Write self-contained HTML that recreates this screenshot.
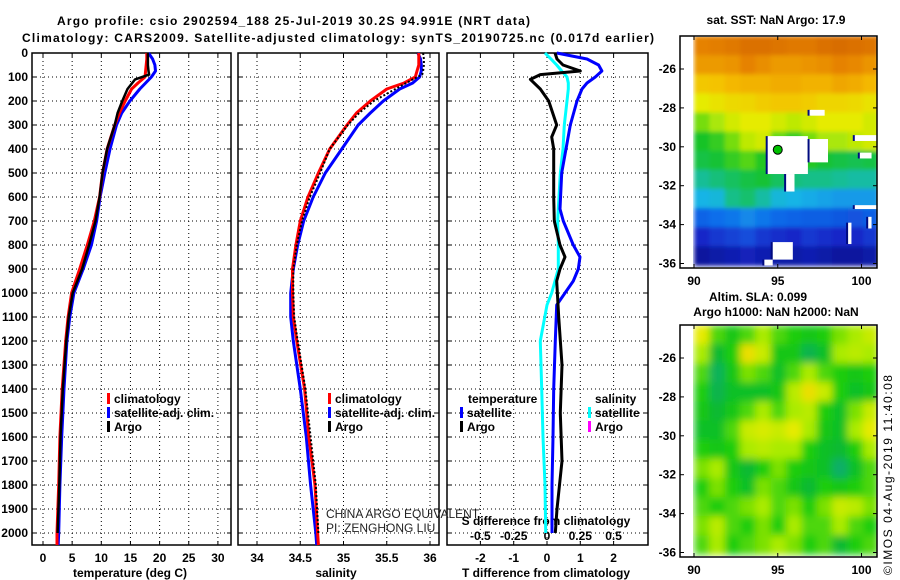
<!DOCTYPE html>
<html><head><meta charset="utf-8"><style>
html,body{margin:0;padding:0;background:#fff;}
svg{display:block;font-family:"Liberation Sans",sans-serif;}
.b{font-weight:bold;font-size:12px;fill:#000;}
</style></head><body>
<svg id="fig" width="900" height="580" viewBox="0 0 900 580" xmlns="http://www.w3.org/2000/svg">
<defs>
<filter id="blurS" x="-5%" y="-5%" width="110%" height="110%"><feGaussianBlur stdDeviation="2" edgeMode="duplicate"/></filter>
<filter id="blurL" x="-5%" y="-5%" width="110%" height="110%"><feGaussianBlur stdDeviation="4" edgeMode="duplicate"/></filter>
<clipPath id="clipM1"><rect x="693" y="37" width="184" height="230"/></clipPath>
<clipPath id="clipM2"><rect x="693" y="326" width="184" height="230"/></clipPath>
</defs>
<text class="b" x="57" y="25" font-size="13" textLength="473">Argo profile: csio 2902594_188 25-Jul-2019 30.2S 94.991E (NRT data)</text>
<text class="b" x="22" y="42" font-size="13" textLength="632">Climatology: CARS2009. Satellite-adjusted climatology: synTS_20190725.nc (0.017d earlier)</text>
<text class="b" x="776" y="24" text-anchor="middle">sat. SST: NaN Argo: 17.9</text>
<text class="b" x="758" y="301" text-anchor="middle">Altim. SLA: 0.099</text>
<text class="b" x="776" y="316" text-anchor="middle">Argo h1000: NaN h2000: NaN</text>
<text x="0" y="0" font-size="12" transform="translate(892,575) rotate(-90)" textLength="200">©IMOS 04-Aug-2019 11:40:08</text>
<g id="root"></g>
</svg>
<script>
// ---------- profile data ----------
const depthT   = [0,25,50,75,100,125,150,200,250,300,400,500,600,700,800,900,1000,1100,1200,1400,1600,1800,2000,2050];
const tempClim = [17.8,17.8,17.7,17.6,17.5,16.3,15.2,14.1,13.1,12.3,11.0,10.2,9.7,8.8,7.6,6.3,4.9,4.3,3.9,3.3,2.9,2.7,2.4,2.4];
const tempSat  = [18.1,18.8,19.2,19.3,18.6,17.6,16.6,14.9,13.5,12.6,11.5,10.6,9.8,9.2,8.3,6.9,5.3,4.6,4.1,3.6,3.2,2.9,2.7,2.6];
const depthA   = [0,25,50,75,90,110,150,200,250,300,400,500,600,700,800,900,1000,1100,1200,1400,1600,1800,2000];
const tempArgo = [18.0,18.0,18.0,18.1,18.2,15.8,14.5,13.6,12.8,12.3,11.0,10.2,9.7,9.0,7.9,6.7,5.1,4.4,4.0,3.4,3.0,2.8,2.5];
const salClim  = [35.87,35.87,35.87,35.85,35.83,35.70,35.50,35.31,35.15,35.04,34.84,34.71,34.59,34.50,34.45,34.41,34.41,34.42,34.46,34.55,34.60,34.67,34.70,34.71];
const salSat   = [35.86,35.89,35.90,35.90,35.88,35.80,35.65,35.46,35.31,35.17,34.98,34.79,34.65,34.54,34.47,34.42,34.39,34.39,34.42,34.50,34.57,34.62,34.68,34.69];
const salArgo  = [35.92,35.93,35.93,35.92,35.91,35.80,35.60,35.35,35.18,35.05,34.84,34.73,34.61,34.52,34.46,34.42,34.42,34.43,34.47,34.56,34.62,34.68,34.71];
const depthD   = [0,25,50,75,100,125,150,200,300,400,500,650,700,800,850,900,950,1000,1050,1200,1400,1600,1800,2000];
const dTsat    = [0.29,1.2,1.55,1.65,1.45,1.2,1.05,0.9,0.7,0.57,0.44,0.39,0.49,0.79,0.99,0.94,0.79,0.54,0.29,0.25,0.2,0.18,0.15,0.15];
const dSsat    = [-0.015,0.03,0.073,0.11,0.15,0.16,0.16,0.15,0.13,0.12,0.1,0.085,0.08,0.085,0.085,0.085,0.06,0.035,0.0,-0.05,-0.04,-0.03,-0.015,-0.01];
const depthDA  = [0,25,50,75,90,110,150,200,300,350,400,500,600,700,800,850,900,950,1100,1300,1500,1700,1900,2000];
const dTargo   = [0.24,0.3,0.48,1.0,-0.2,-0.5,-0.2,0.05,0.29,0.14,0.2,0.2,0.2,0.22,0.39,0.54,0.39,0.29,0.35,0.45,0.4,0.45,0.3,0.25];
const depthTicks = [0,100,200,300,400,500,600,700,800,900,1000,1100,1200,1300,1400,1500,1600,1700,1800,1900,2000];
const tempTicks = [0,5,10,15,20,25,30];
const salTicks = [34,34.5,35,35.5,36];
const salTickLabels = ["34","34.5","35","35.5","36"];
const dTTicks = [-2,-1,0,1,2];
const dSTicks = [-0.5,-0.25,0,0.25,0.5];
const dSTickLabels = ["-0.5","-0.25","0","0.25","0.5"];
// ---------- map data ----------
const lonTicks = [90,95,100];
const latTicks = [-26,-28,-30,-32,-34,-36];
const sstGrid = [
[0.86,0.87,0.88,0.90,0.90,0.89,0.88,0.88,0.90,0.91,0.90,0.89],
[0.82,0.82,0.83,0.86,0.84,0.82,0.82,0.83,0.84,0.86,0.85,0.83],
[0.74,0.75,0.77,0.78,0.78,0.79,0.79,0.78,0.78,0.80,0.79,0.77],
[0.66,0.68,0.70,0.71,0.73,0.74,0.74,0.73,0.71,0.71,0.70,0.68],
[0.56,0.60,0.64,0.66,0.66,0.64,0.62,0.64,0.66,0.66,0.66,0.64],
[0.50,0.52,0.56,0.62,0.64,0.55,0.52,0.56,0.60,0.60,0.62,0.64],
[0.48,0.49,0.52,0.54,0.51,0.49,0.49,0.51,0.49,0.48,0.47,0.48],
[0.42,0.44,0.46,0.48,0.49,0.46,0.44,0.43,0.43,0.42,0.41,0.41],
[0.36,0.37,0.43,0.45,0.41,0.37,0.36,0.35,0.34,0.33,0.33,0.33],
[0.26,0.28,0.29,0.31,0.29,0.27,0.26,0.25,0.25,0.24,0.23,0.25],
[0.15,0.18,0.20,0.22,0.18,0.16,0.15,0.18,0.16,0.15,0.15,0.18],
[0.06,0.08,0.10,0.12,0.10,0.08,0.08,0.10,0.08,0.06,0.06,0.08]];
const slaGrid = [
[.8,.5,.4,.5,.6,.5,.45,.4,.45,.55,.6,.7],
[.6,.3,.45,.85,.7,.4,.4,.2,.35,.6,.65,.6],
[.5,.15,.4,.55,.5,.35,.5,.6,.5,.45,.4,.45],
[.45,.2,.35,.35,.35,.4,.65,.85,.7,.45,.35,.4],
[.4,.3,.4,.5,.6,.5,.6,.65,.45,.35,.55,.7],
[.35,.35,.5,.7,.75,.7,.8,.6,.4,.35,.6,.8],
[.45,.4,.45,.6,.65,.6,.6,.45,.35,.3,.45,.6],
[.55,.6,.4,.3,.45,.55,.45,.4,.35,.1,.35,.5],
[.45,.55,.45,.35,.55,.5,.4,.3,.45,.4,.45,.5],
[.5,.45,.5,.55,.6,.5,.55,.45,.55,.7,.65,.55],
[.55,.65,.5,.45,.55,.45,.6,.5,.5,.6,.5,.45],
[.5,.6,.45,.5,.55,.6,.55,.45,.5,.3,.45,.5]];
// NaN regions [lon0, lon1, latTop, latBottom]
const nanLon0 = [94.4,95.5,96.9,96.9,99.6,99.9,99.6,99.2,100.4,94.7,94.2];
const nanLon1 = [96.8,96.0,98.0,97.8,101,100.6,101,99.4,100.6,95.9,94.7];
const nanLatT = [-29.45,-31.4,-29.6,-28.1,-29.4,-30.3,-33.0,-33.9,-33.6,-34.9,-35.8];
const nanLatB = [-31.4,-32.3,-30.8,-28.4,-29.7,-30.6,-33.2,-35.0,-34.2,-35.8,-36.1];
const argoLon = 95.0, argoLat = -30.15;

const NS = "http://www.w3.org/2000/svg";
const root = document.getElementById('root');
function mk(tag, attrs, parent){ const e=document.createElementNS(NS,tag); for(const k in attrs) e.setAttribute(k,attrs[k]); (parent||root).appendChild(e); return e; }
function txt(x,y,s,anchor,cls,parent){ const t=mk('text',{x:x,y:y,'text-anchor':anchor||'start','class':cls||'b'},parent); t.textContent=s; return t; }

// ---------- axes ----------
const yTop=53, yBot=545;
const yD = d => yTop + d*0.24;
const xT = v => 43 + v*5.83;
const xS = v => 257 + (v-34)*86.5;
const xDT = v => 547 + v*33.3;
const xDS = v => 547 + v*133.2;
const panels = [{x0:32,x1:231,name:'temperature'},{x0:238,x1:439,name:'salinity'},{x0:447,x1:648,name:'difference'}];

panels.forEach((p,i)=>{
  const g=mk('g',{});
  
  
  depthTicks.forEach(d=>{
    const l=mk('line',{x1:p.x0,x2:p.x1,y1:yD(d),y2:yD(d),stroke:'#000','stroke-width':1,'stroke-dasharray':'1,3'},g);
    
    
    mk('line',{x1:p.x0,x2:p.x0+4,y1:yD(d),y2:yD(d),stroke:'#000'},g);
    mk('line',{x1:p.x1,x2:p.x1-4,y1:yD(d),y2:yD(d),stroke:'#000'},g);
  });
  const ticks = i===0?tempTicks.map(xT): i===1?salTicks.map(xS):dTTicks.map(xDT);
  ticks.forEach(x=>{
    const l=mk('line',{x1:x,x2:x,y1:yTop,y2:yBot,stroke:'#000','stroke-dasharray':'1,3'},g);
    
    
    mk('line',{x1:x,x2:x,y1:yBot,y2:yBot-4,stroke:'#000'},g);
    mk('line',{x1:x,x2:x,y1:yTop,y2:yTop+4,stroke:'#000'},g);
  });
  const r=mk('rect',{x:p.x0,y:yTop,width:p.x1-p.x0,height:yBot-yTop,fill:'none',stroke:'#000','stroke-width':1.5},g);
  
  
});
depthTicks.forEach(d=>{ const t=txt(28,yD(d)+4,String(d),'end');   });
tempTicks.forEach(v=>{ const t=txt(xT(v),562,String(v),'middle');   });
salTicks.forEach((v,i)=>{ const t=txt(xS(v),562,salTickLabels[i],'middle');   });
dTTicks.forEach(v=>{ const t=txt(xDT(v),562,String(v),'middle');   });
dSTicks.forEach((v,i)=>{ const t=txt(xDS(v),540,dSTickLabels[i],'middle');   });
let t;
t=txt(130,577,'temperature (deg C)','middle');  
t=txt(336,577,'salinity','middle');  
t=txt(546,577,'T difference from climatology','middle');  
t=txt(546,525,'S difference from climatology','middle');  
t=txt(326,518,'CHINA ARGO EQUIVALENT','start','n'); t.setAttribute('font-size','12'); t.setAttribute('fill','#222');  
t=txt(326,532,'PI: ZENGHONG LIU','start','n'); t.setAttribute('font-size','12'); t.setAttribute('fill','#222');  

function curve(xs, ds, xf, color, w, name, dash){
  const pts = xs.map((v,i)=> xf(v).toFixed(1)+','+yD(ds[i]).toFixed(1)).join(' ');
  const a={points:pts,fill:'none',stroke:color,'stroke-width':w,'stroke-linejoin':'round'};
  if(dash) a['stroke-dasharray']=dash;
  const pl=mk('polyline',a);
  
  
}
curve(tempSat,depthT,xT,'#0000ff',3,'temperature-satellite-line');
curve(tempClim,depthT,xT,'#ff0000',3,'temperature-climatology-line');
curve(tempArgo,depthA,xT,'#000',2.5,'temperature-argo-line');
curve(salSat,depthT,xS,'#0000ff',3,'salinity-satellite-line');
curve(salClim,depthT,xS,'#ff0000',3,'salinity-climatology-line');
curve(salArgo,depthA,xS,'#000',2,'salinity-argo-line','2,2');
curve(dSsat,depthD,xDS,'#00ffff',3,'s-diff-satellite-line');
curve(dTsat,depthD,xDT,'#0000ff',3,'t-diff-satellite-line');
curve(dTargo,depthDA,xDT,'#000',3,'t-diff-argo-line');

function legendEntry(x,y,color,label,name){
  const g=mk('g',{});
  
  
  mk('rect',{x:x,y:y-10,width:3,height:11,fill:color},g);
  txt(x+7,y,label,'start','b',g);
}
legendEntry(107,403,'#ff0000','climatology','legend-temp-climatology');
legendEntry(107,417,'#0000ff','satellite-adj. clim.','legend-temp-satellite');
legendEntry(107,431,'#000','Argo','legend-temp-argo');
legendEntry(328,403,'#ff0000','climatology','legend-sal-climatology');
legendEntry(328,417,'#0000ff','satellite-adj. clim.','legend-sal-satellite');
legendEntry(328,431,'#000','Argo','legend-sal-argo');
t=txt(468,403,'temperature');  
t=txt(595,403,'salinity');  
legendEntry(460,417,'#0000ff','satellite','legend-tdiff-satellite');
legendEntry(460,431,'#000','Argo','legend-tdiff-argo');
legendEntry(588,417,'#00ffff','satellite','legend-sdiff-satellite');
legendEntry(588,431,'#ff00ff','Argo','legend-sdiff-argo');

// ---------- maps ----------
function sstColor(v){
  const st=[[0,[10,10,130]],[0.15,[20,40,200]],[0.28,[16,110,235]],[0.36,[20,180,230]],[0.42,[20,190,150]],[0.5,[20,195,40]],[0.58,[150,230,10]],[0.66,[230,235,0]],[0.76,[245,190,0]],[0.86,[230,130,0]],[1,[190,70,0]]];
  for(let i=1;i<st.length;i++){ if(v<=st[i][0]){ const f=(v-st[i-1][0])/(st[i][0]-st[i-1][0]); const a=st[i-1][1],b=st[i][1]; return 'rgb('+a.map((c,k)=>Math.round(c+(b[k]-c)*f)).join(',')+')'; } }
  return 'rgb(190,70,0)';
}
function slaColor(v){
  const st=[[0,[20,170,130]],[0.3,[10,185,50]],[0.45,[30,205,10]],[0.6,[170,235,0]],[0.8,[230,235,0]],[1,[245,185,0]]];
  for(let i=1;i<st.length;i++){ if(v<=st[i][0]){ const f=(v-st[i-1][0])/(st[i][0]-st[i-1][0]); const a=st[i-1][1],b=st[i][1]; return 'rgb('+a.map((c,k)=>Math.round(c+(b[k]-c)*f)).join(',')+')'; } }
  return 'rgb(245,185,0)';
}
function drawMap(top, grid, colorFn, filt, clip, name){
  const lonX = v => 694 + (v-90)*16.75;
  const latY = v => top + 33 + (-26 - v)*19.45;
  const latTop = -24.3, latBot=-36.1, lon0=90, lon1=101;
  const g=mk('g',{'clip-path':'url(#'+clip+')'});
  
  
  const cg=mk('g',{filter:'url(#'+filt+')'},g);
  const nr=grid.length, nc=grid[0].length;
  const dLat=(latTop-latBot)/nr, dLon=(lon1-lon0)/nc;
  grid.forEach((row,r)=>row.forEach((v,c)=>{
    const x0=lonX(lon0+c*dLon), x1=lonX(lon0+(c+1)*dLon);
    const y0=latY(latTop-r*dLat), y1=latY(latTop-(r+1)*dLat);
    const cell=mk('rect',{x:x0,y:y0,width:x1-x0+0.6,height:y1-y0+0.6,fill:colorFn(v)},cg);
    
    
  }));
  return {g:g,lonX:lonX,latY:latY};
}
function mapAxes(top, name){
  const lonX = v => 694 + (v-90)*16.75;
  const latY = v => top + 33 + (-26 - v)*19.45;
  const fr=mk('rect',{x:680,y:top,width:197,height:232,fill:'none',stroke:'#000','stroke-width':1.5});
  
  
  lonTicks.forEach(v=>{
    mk('line',{x1:lonX(v),x2:lonX(v),y1:top,y2:top+4,stroke:'#000'});
    mk('line',{x1:lonX(v),x2:lonX(v),y1:top+232,y2:top+228,stroke:'#000'});
    const tt=txt(lonX(v),top+249,String(v),'middle');  
  });
  latTicks.forEach(v=>{
    mk('line',{x1:680,x2:684,y1:latY(v),y2:latY(v),stroke:'#000'});
    mk('line',{x1:877,x2:873,y1:latY(v),y2:latY(v),stroke:'#000'});
    const tt=txt(676,latY(v)+4,String(v),'end');  
  });
}
const m1=drawMap(36, sstGrid, sstColor, 'blurS', 'clipM1', 'sst-map');
nanLon0.forEach((l0,i)=>{
  const x0=m1.lonX(l0), x1=m1.lonX(nanLon1[i]), y0=m1.latY(nanLatT[i]), y1=m1.latY(nanLatB[i]);
  const nv=mk('rect',{x:x0-2,y:y0,width:3,height:y1-y0,fill:'#000a80'},m1.g);
  
  
  const w=mk('rect',{x:x0,y:y0,width:x1-x0,height:y1-y0,fill:'#fff'},m1.g);
  
  
});
const mark=mk('circle',{cx:m1.lonX(argoLon),cy:m1.latY(argoLat),r:4.5,fill:'#00c000',stroke:'#000','stroke-width':1});


mapAxes(36,'sst-map');
drawMap(325, slaGrid, slaColor, 'blurL', 'clipM2', 'sla-map');
mapAxes(325,'sla-map');
</script>
</body></html>
